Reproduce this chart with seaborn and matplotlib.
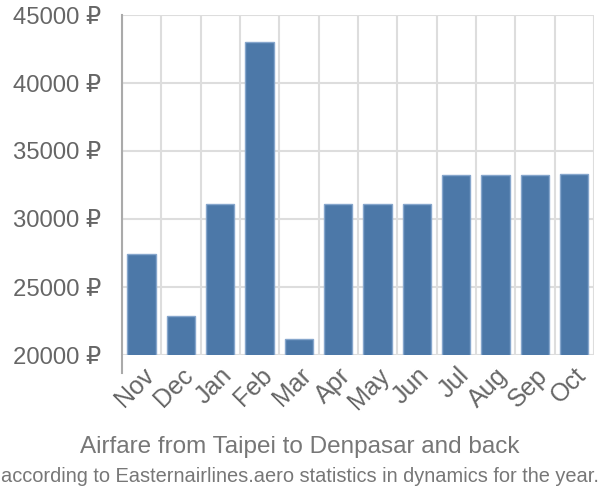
import matplotlib
matplotlib.use("Agg")
import matplotlib.pyplot as plt
import matplotlib.ticker as mticker
from matplotlib import font_manager
import seaborn as sns
import pandas as pd

months = ["Nov", "Dec", "Jan", "Feb", "Mar", "Apr", "May", "Jun", "Jul", "Aug", "Sep", "Oct"]
prices = [27400, 22900, 31100, 43000, 21200, 31100, 31100, 31100, 33200, 33200, 33200, 33300]
y_ticks = [20000, 25000, 30000, 35000, 40000, 45000]
title1 = "Airfare from Taipei to Denpasar and back"
title2 = "according to Easternairlines.aero statistics in dynamics for the year."

sns.set_style("white")
plt.rcParams["font.family"] = ["Liberation Sans", "DejaVu Sans"]

names = {f.name for f in font_manager.fontManager.ttflist}
narrow = "Liberation Sans Narrow" if "Liberation Sans Narrow" in names else None

df = pd.DataFrame({"month": months, "price": prices})

fig = plt.figure(figsize=(6, 5), dpi=100)
ax = fig.add_axes([0.203, 0.29, 0.787, 0.68])

sns.barplot(data=df, x="month", y="price", color="#4c78a8", saturation=1,
            width=0.72, edgecolor="#86a6cc", linewidth=1, ax=ax, zorder=3)

ax.set_ylim(20000, 45000)
ax.set_xlim(-0.5, len(months) - 0.5)
ax.set_yticks(y_ticks)
ax.set_yticklabels([f"{v} ₽" for v in y_ticks])
ax.set_xlabel("")
ax.set_ylabel("")

ax.xaxis.set_minor_locator(mticker.FixedLocator([i - 0.5 for i in range(len(months) + 1)]))
ax.grid(True, which="minor", axis="x", color="#dddddd", linewidth=1.5, zorder=0)
ax.grid(True, which="major", axis="y", color="#dddddd", linewidth=1.5, zorder=0)
ax.grid(False, which="major", axis="x")

ax.tick_params(axis="x", which="major", length=0, pad=6, labelsize=18, labelcolor="#666666")
ax.tick_params(axis="x", which="minor", length=13, width=1.5, color="#dddddd", direction="out")
ax.tick_params(axis="y", which="major", length=14, width=1.5, color="#dddddd", labelsize=17.2,
               labelcolor="#666666", pad=1)
for lbl in ax.get_xticklabels():
    lbl.set_rotation(45)
    lbl.set_ha("right")
    lbl.set_rotation_mode("anchor")

for s in ["top", "right", "bottom"]:
    ax.spines[s].set_visible(False)
ax.spines["left"].set_color("#aaaaaa")
ax.spines["left"].set_linewidth(1.5)
ax.spines["left"].set_zorder(4)
ax.spines["left"].set_bounds(18650, 45000)

fig.text(0.5, 0.106, title1, ha="center", va="center", fontsize=17.5, color="#777777")
if narrow:
    fig.text(0.5, 0.048, title2, ha="center", va="center", fontsize=17.5, color="#777777",
             family=[narrow, "Liberation Sans", "DejaVu Sans"])
else:
    fig.text(0.5, 0.048, title2, ha="center", va="center", fontsize=14.4, color="#777777")

fig.savefig("out.png", dpi=100)
